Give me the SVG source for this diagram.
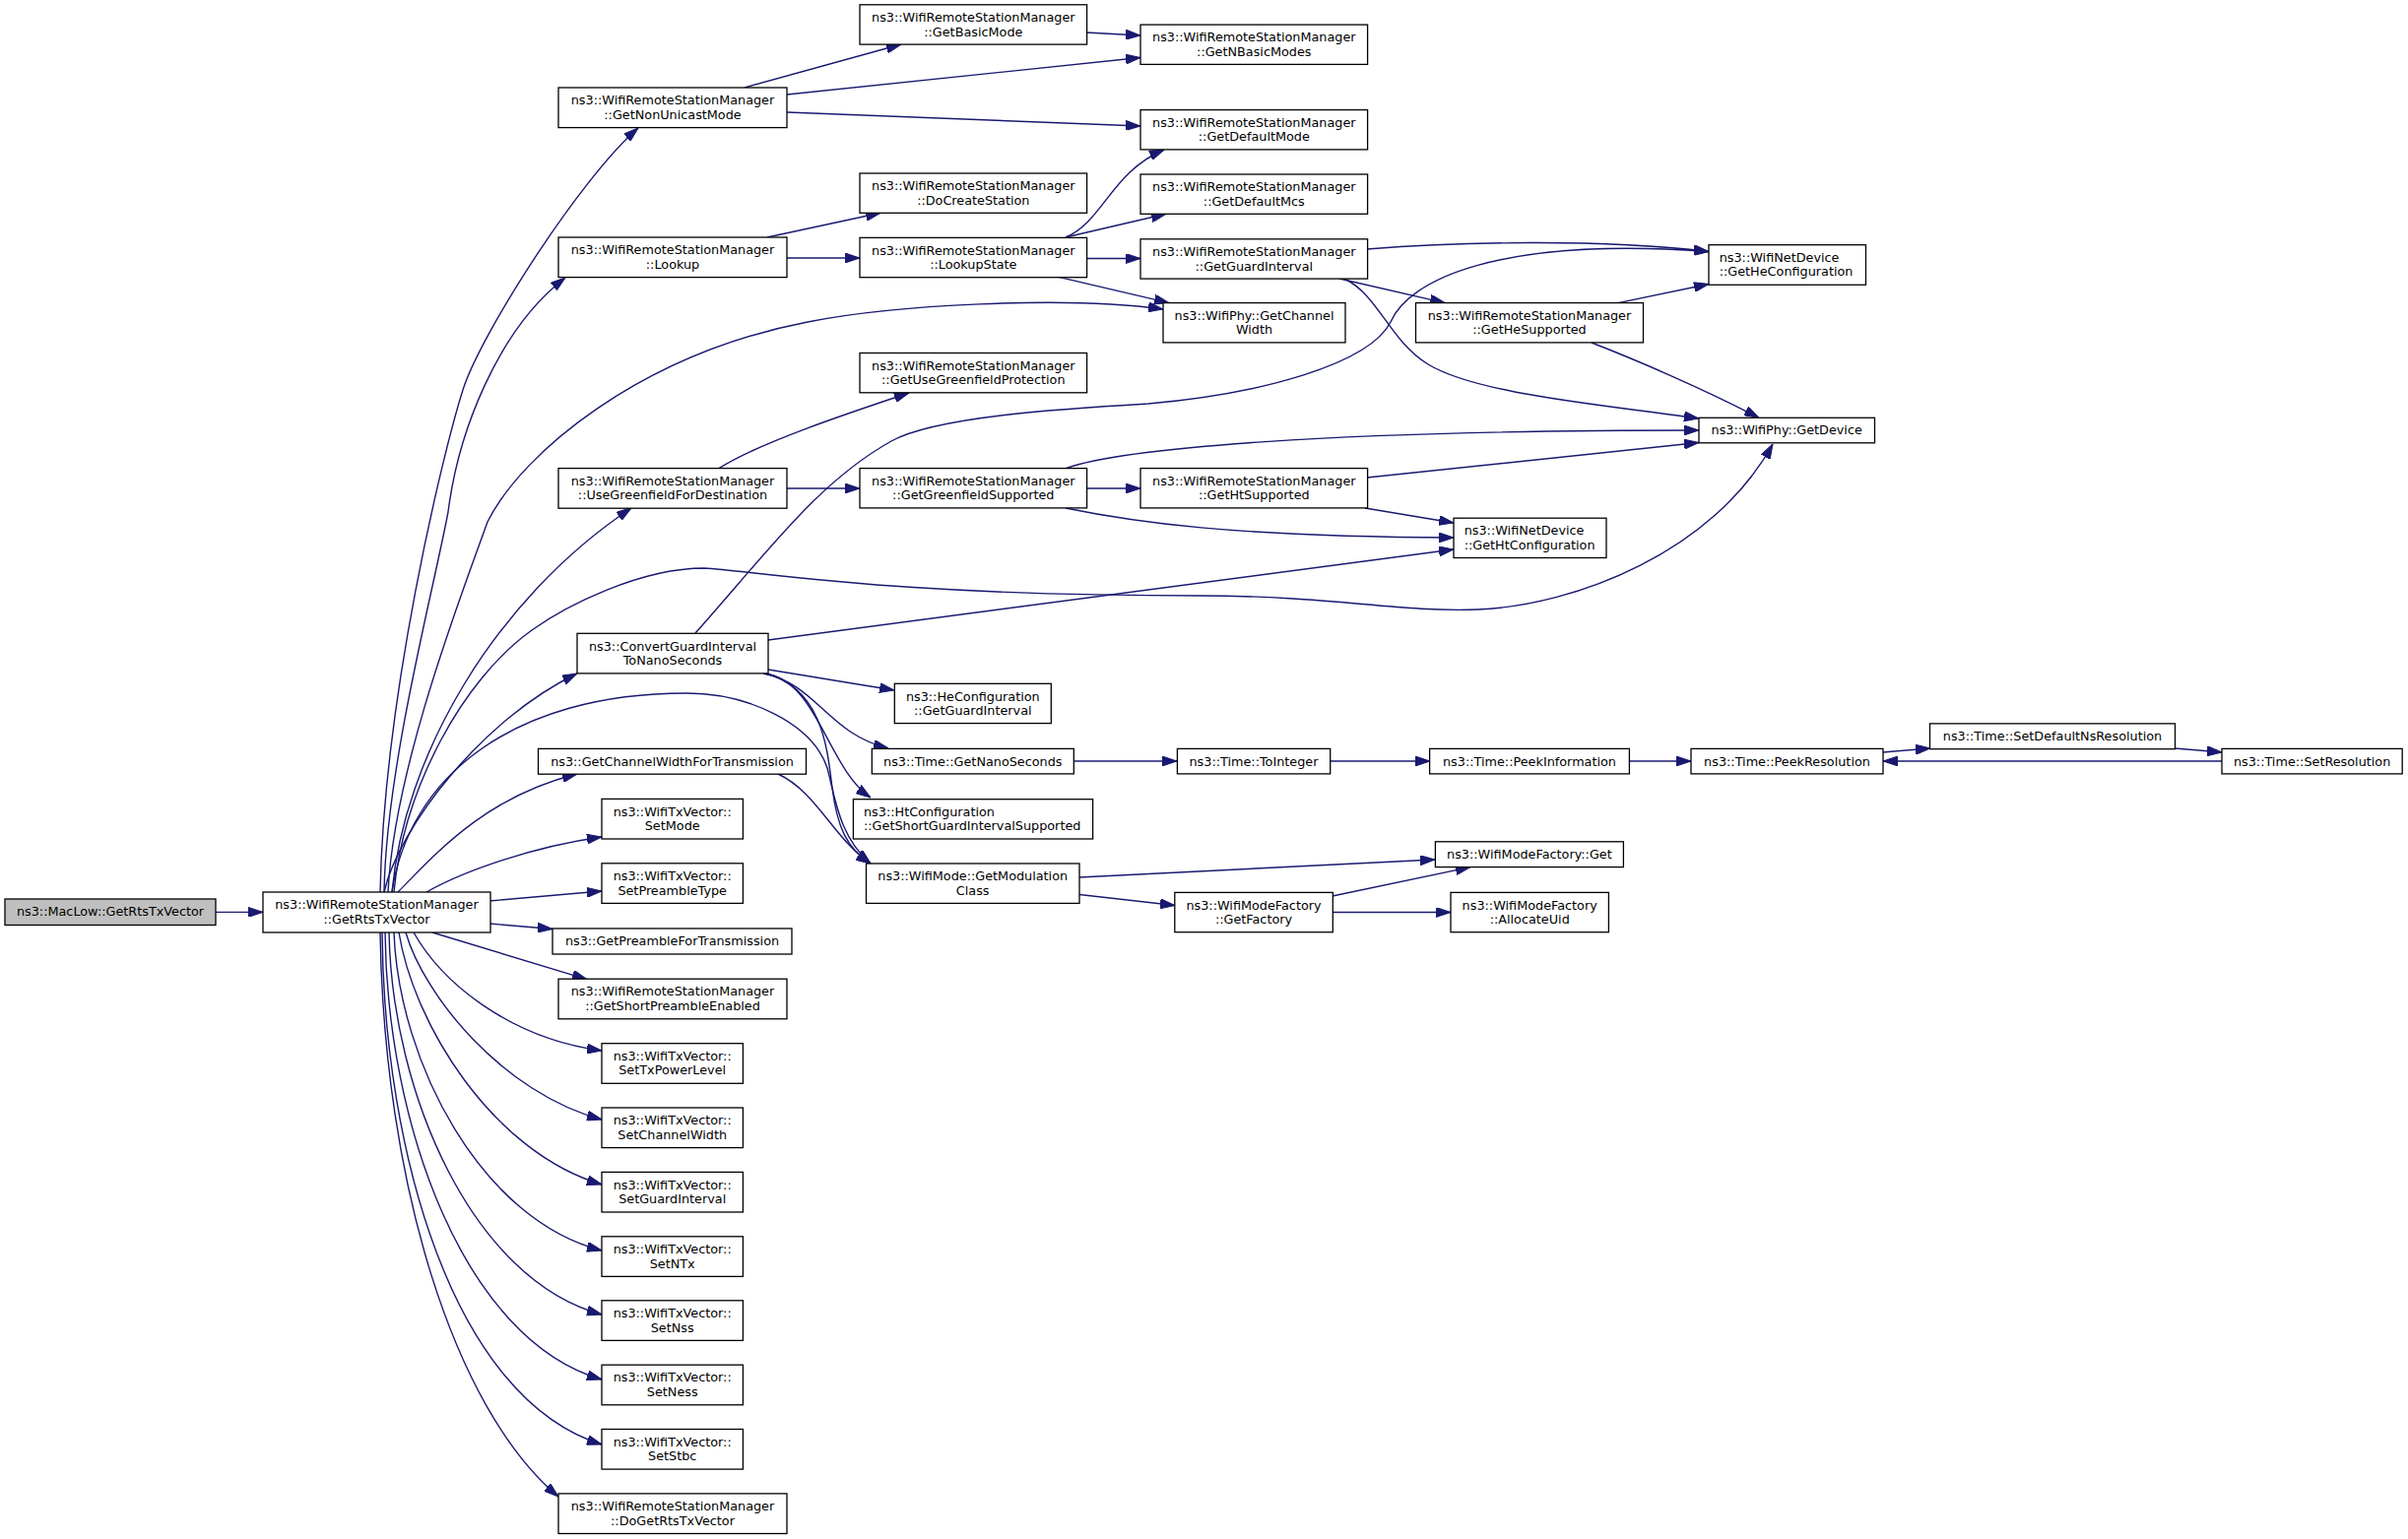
<svg xmlns="http://www.w3.org/2000/svg" width="2445" height="1563" viewBox="0 0 2445 1563">
<style>
.node rect{fill:#ffffff;stroke:#000000;stroke-width:1.3}
.node.root rect{fill:#bfbfbf}
.node text{font-family:"DejaVu Sans","Liberation Sans",sans-serif;font-size:12.8px;fill:#000000;text-anchor:middle}
.node text.l{text-anchor:start}
.edges path{fill:none;stroke:#191970;stroke-width:1.4;marker-end:url(#ah)}
</style>
<defs>
<marker id="ah" viewBox="0 0 15 10" refX="15" refY="5" markerWidth="15" markerHeight="10" markerUnits="userSpaceOnUse" orient="auto"><path d="M0,0 L15,5 L0,10 z" fill="#191970" stroke="#191970" stroke-width="1"/></marker>
</defs>
<rect x="0" y="0" width="2445" height="1563" fill="#ffffff"/>
<g id="edges" class="edges">
<path d="M219,926.4 L267,926.4"/>
<path d="M386,906 C390,706 450,459 470,396 C488,339 590,180 648,130"/>
<path d="M390,906 C392,780 440,600 455,520 C465,440 505,335 574,282"/>
<path d="M394,906 C400,780 470,600 495,530 C530,460 650,360 820,327 C905,310 1080,300 1181,314"/>
<path d="M398,906 C410,770 500,610 641,516"/>
<path d="M400,906 C410,800 470,690 540,640 C575,615 650,577 715,577 C770,580 900,605 1218,605 C1350,605 1420,622 1500,619 C1600,615 1740,560 1800,451"/>
<path d="M390,906 C405,840 490,730 586,684"/>
<path d="M404,906 C440,870 490,810 586,786"/>
<path d="M433,906 C470,885 540,860 611,850"/>
<path d="M497,915 L611,905"/>
<path d="M497,938 L561,943.5"/>
<path d="M439,947 L596,994.6"/>
<path d="M420,947 C450,1000 520,1055 611,1067"/>
<path d="M412,947 C430,1010 510,1110 611,1137"/>
<path d="M405,947 C420,1040 500,1170 611,1203"/>
<path d="M400,947 C405,1080 490,1240 611,1270"/>
<path d="M395,947 C398,1110 480,1300 611,1335"/>
<path d="M391,947 C393,1140 470,1360 611,1401"/>
<path d="M388,947 C390,1170 460,1420 611,1467"/>
<path d="M386,947 C390,1200 460,1430 567,1520"/>
<path d="M398,906 C415,790 520,704 697,704 C760,704 825,735 840,780 C848,810 852,850 884,877"/>
<path d="M756,89 L915,45"/>
<path d="M799,96 L1158,58.5"/>
<path d="M799,114 L1158,128"/>
<path d="M1103,33 L1158,36"/>
<path d="M779,241 L894,216.3"/>
<path d="M799,262 L873,262"/>
<path d="M1082,241 C1120,225 1128,175 1182,152"/>
<path d="M1082,241 L1184,217.3"/>
<path d="M1103,262.5 L1158,262.5"/>
<path d="M1075,281.4 L1187,307.6"/>
<path d="M1388,253 C1480,246 1620,242 1735,255.5"/>
<path d="M1360,283 L1467,307.6"/>
<path d="M1365,283 C1400,300 1410,345 1450,370 C1500,400 1620,410 1725,425"/>
<path d="M1643,307.6 L1735,288.5"/>
<path d="M1616,348 C1660,365 1730,395 1786,424.3"/>
<path d="M730,475.6 C770,450 860,420 923,399"/>
<path d="M799,496 L873,496"/>
<path d="M1082,475.6 C1140,455 1350,437 1725,437"/>
<path d="M1103,496 L1158,496"/>
<path d="M1082,516 C1150,530 1250,545 1476,546"/>
<path d="M1388,485 L1725,449.5"/>
<path d="M1386,516 L1476,531"/>
<path d="M706,643 C780,560 830,490 905,448 C950,423 1080,415 1166,410 C1280,400 1390,370 1412,327 C1430,285 1520,240 1735,255.5"/>
<path d="M780,650 L1476,558"/>
<path d="M780,680 L908,701"/>
<path d="M775,684 C830,695 840,745 902,760"/>
<path d="M776,684 C830,690 840,780 884,810"/>
<path d="M778,684 C835,700 840,760 845,800 C850,840 860,862 884,877"/>
<path d="M790,786 C830,805 845,850 884,877"/>
<path d="M1096,891 L1457,873"/>
<path d="M1096,908.5 L1193,919.5"/>
<path d="M1353,910 L1493,880.6"/>
<path d="M1353,926.5 L1473,926.5"/>
<path d="M1090,773 L1195,773"/>
<path d="M1351,773 L1452,773"/>
<path d="M1654,773 L1717,773"/>
<path d="M1912,764 L1960,760"/>
<path d="M2208,760 L2256,764"/>
<path d="M2256,773 L1912,773"/>
</g>
<g id="n0" class="node root"><rect x="5" y="913" width="214" height="26.5"/><text x="112" y="930.3">ns3::MacLow::GetRtsTxVector</text></g>
<g id="n1" class="node"><rect x="267" y="906" width="231" height="41"/><text x="382.5" y="923.2">ns3::WifiRemoteStationManager</text><text x="382.5" y="937.7">::GetRtsTxVector</text></g>
<g id="n2" class="node"><rect x="567" y="89" width="232" height="40.6"/><text x="683" y="106.2">ns3::WifiRemoteStationManager</text><text x="683" y="120.7">::GetNonUnicastMode</text></g>
<g id="n3" class="node"><rect x="567" y="241" width="232" height="40.6"/><text x="683" y="258.2">ns3::WifiRemoteStationManager</text><text x="683" y="272.7">::Lookup</text></g>
<g id="n4" class="node"><rect x="567" y="475.6" width="232" height="40.6"/><text x="683" y="492.8">ns3::WifiRemoteStationManager</text><text x="683" y="507.3">::UseGreenfieldForDestination</text></g>
<g id="n5" class="node"><rect x="586" y="643.3" width="194" height="40.6"/><text x="683" y="660.5">ns3::ConvertGuardInterval</text><text x="683" y="675">ToNanoSeconds</text></g>
<g id="n6" class="node"><rect x="546.5" y="760.4" width="272" height="25.8"/><text x="682.5" y="777.7">ns3::GetChannelWidthForTransmission</text></g>
<g id="n7" class="node"><rect x="611" y="811.4" width="143.4" height="40.6"/><text x="682.7" y="828.6">ns3::WifiTxVector::</text><text x="682.7" y="843.1">SetMode</text></g>
<g id="n8" class="node"><rect x="611" y="876.8" width="143.4" height="40.6"/><text x="682.7" y="894">ns3::WifiTxVector::</text><text x="682.7" y="908.5">SetPreambleType</text></g>
<g id="n9" class="node"><rect x="561" y="943" width="243" height="26"/><text x="682.5" y="960.3">ns3::GetPreambleForTransmission</text></g>
<g id="n10" class="node"><rect x="567" y="994.2" width="232" height="40.6"/><text x="683" y="1011.4">ns3::WifiRemoteStationManager</text><text x="683" y="1025.9">::GetShortPreambleEnabled</text></g>
<g id="n11" class="node"><rect x="611" y="1059.7" width="143.4" height="40.6"/><text x="682.7" y="1076.9">ns3::WifiTxVector::</text><text x="682.7" y="1091.4">SetTxPowerLevel</text></g>
<g id="n12" class="node"><rect x="611" y="1125" width="143.4" height="40.6"/><text x="682.7" y="1142.2">ns3::WifiTxVector::</text><text x="682.7" y="1156.7">SetChannelWidth</text></g>
<g id="n13" class="node"><rect x="611" y="1190.4" width="143.4" height="40.6"/><text x="682.7" y="1207.6">ns3::WifiTxVector::</text><text x="682.7" y="1222.1">SetGuardInterval</text></g>
<g id="n14" class="node"><rect x="611" y="1255.8" width="143.4" height="40.6"/><text x="682.7" y="1273">ns3::WifiTxVector::</text><text x="682.7" y="1287.5">SetNTx</text></g>
<g id="n15" class="node"><rect x="611" y="1320.8" width="143.4" height="40.6"/><text x="682.7" y="1338">ns3::WifiTxVector::</text><text x="682.7" y="1352.5">SetNss</text></g>
<g id="n16" class="node"><rect x="611" y="1386.2" width="143.4" height="40.6"/><text x="682.7" y="1403.4">ns3::WifiTxVector::</text><text x="682.7" y="1417.9">SetNess</text></g>
<g id="n17" class="node"><rect x="611" y="1451.5" width="143.4" height="40.6"/><text x="682.7" y="1468.7">ns3::WifiTxVector::</text><text x="682.7" y="1483.2">SetStbc</text></g>
<g id="n18" class="node"><rect x="567" y="1516.9" width="232" height="40.6"/><text x="683" y="1534.1">ns3::WifiRemoteStationManager</text><text x="683" y="1548.6">::DoGetRtsTxVector</text></g>
<g id="n19" class="node"><rect x="873" y="4.8" width="230.6" height="40.3"/><text x="988.3" y="22">ns3::WifiRemoteStationManager</text><text x="988.3" y="36.5">::GetBasicMode</text></g>
<g id="n20" class="node"><rect x="1158" y="25.1" width="230.6" height="40.3"/><text x="1273.3" y="42.3">ns3::WifiRemoteStationManager</text><text x="1273.3" y="56.8">::GetNBasicModes</text></g>
<g id="n21" class="node"><rect x="1158" y="111.6" width="230.6" height="40.3"/><text x="1273.3" y="128.8">ns3::WifiRemoteStationManager</text><text x="1273.3" y="143.3">::GetDefaultMode</text></g>
<g id="n22" class="node"><rect x="873" y="176" width="230.6" height="40.3"/><text x="988.3" y="193.2">ns3::WifiRemoteStationManager</text><text x="988.3" y="207.7">::DoCreateStation</text></g>
<g id="n23" class="node"><rect x="1158" y="177" width="230.6" height="40.3"/><text x="1273.3" y="194.2">ns3::WifiRemoteStationManager</text><text x="1273.3" y="208.7">::GetDefaultMcs</text></g>
<g id="n24" class="node"><rect x="873" y="241.4" width="230.6" height="40.3"/><text x="988.3" y="258.6">ns3::WifiRemoteStationManager</text><text x="988.3" y="273.1">::LookupState</text></g>
<g id="n25" class="node"><rect x="1158" y="242.8" width="230.6" height="40.3"/><text x="1273.3" y="260">ns3::WifiRemoteStationManager</text><text x="1273.3" y="274.5">::GetGuardInterval</text></g>
<g id="n26" class="node"><rect x="1181" y="307.6" width="185" height="40.3"/><text x="1273.5" y="324.8">ns3::WifiPhy::GetChannel</text><text x="1273.5" y="339.3">Width</text></g>
<g id="n27" class="node"><rect x="1437.5" y="307.6" width="231" height="40.3"/><text x="1553" y="324.8">ns3::WifiRemoteStationManager</text><text x="1553" y="339.3">::GetHeSupported</text></g>
<g id="n28" class="node"><rect x="873" y="358.5" width="230.6" height="40.3"/><text x="988.3" y="375.7">ns3::WifiRemoteStationManager</text><text x="988.3" y="390.2">::GetUseGreenfieldProtection</text></g>
<g id="n29" class="node"><rect x="873" y="475.6" width="230.6" height="40.3"/><text x="988.3" y="492.8">ns3::WifiRemoteStationManager</text><text x="988.3" y="507.3">::GetGreenfieldSupported</text></g>
<g id="n30" class="node"><rect x="1158" y="475.6" width="230.6" height="40.3"/><text x="1273.3" y="492.8">ns3::WifiRemoteStationManager</text><text x="1273.3" y="507.3">::GetHtSupported</text></g>
<g id="n31" class="node"><rect x="1476" y="526.2" width="155" height="40.3"/><text class="l" x="1486.7" y="543.4">ns3::WifiNetDevice</text><text class="l" x="1486.7" y="557.9">::GetHtConfiguration</text></g>
<g id="n32" class="node"><rect x="1735" y="248.7" width="159.5" height="40.6"/><text class="l" x="1745.7" y="265.9">ns3::WifiNetDevice</text><text class="l" x="1745.7" y="280.4">::GetHeConfiguration</text></g>
<g id="n33" class="node"><rect x="1725" y="424.3" width="178.5" height="25.5"/><text x="1814.2" y="441.4">ns3::WifiPhy::GetDevice</text></g>
<g id="n34" class="node"><rect x="908.3" y="694.3" width="159" height="40.3"/><text x="987.8" y="711.5">ns3::HeConfiguration</text><text x="987.8" y="726">::GetGuardInterval</text></g>
<g id="n35" class="node"><rect x="885.3" y="760.4" width="205" height="25.5"/><text x="987.8" y="777.5">ns3::Time::GetNanoSeconds</text></g>
<g id="n36" class="node"><rect x="1195.4" y="760.4" width="155.3" height="25.5"/><text x="1273" y="777.5">ns3::Time::ToInteger</text></g>
<g id="n37" class="node"><rect x="1451.6" y="760.4" width="202.8" height="25.5"/><text x="1553" y="777.5">ns3::Time::PeekInformation</text></g>
<g id="n38" class="node"><rect x="866.4" y="811.7" width="243.2" height="40.3"/><text class="l" x="877" y="828.9">ns3::HtConfiguration</text><text class="l" x="877" y="843.4">::GetShortGuardIntervalSupported</text></g>
<g id="n39" class="node"><rect x="879.5" y="877" width="216.5" height="40.4"/><text x="987.7" y="894.2">ns3::WifiMode::GetModulation</text><text x="987.7" y="908.7">Class</text></g>
<g id="n40" class="node"><rect x="1192.8" y="906.4" width="160.5" height="40.3"/><text x="1273" y="923.6">ns3::WifiModeFactory</text><text x="1273" y="938.1">::GetFactory</text></g>
<g id="n41" class="node"><rect x="1457.4" y="854.8" width="191" height="25.8"/><text x="1552.9" y="872">ns3::WifiModeFactory::Get</text></g>
<g id="n42" class="node"><rect x="1473" y="906.4" width="160.4" height="40.3"/><text x="1553.2" y="923.6">ns3::WifiModeFactory</text><text x="1553.2" y="938.1">::AllocateUid</text></g>
<g id="n43" class="node"><rect x="1717" y="760.4" width="195" height="25.5"/><text x="1814.5" y="777.5">ns3::Time::PeekResolution</text></g>
<g id="n44" class="node"><rect x="1959.5" y="734.9" width="249" height="25.8"/><text x="2084" y="752.2">ns3::Time::SetDefaultNsResolution</text></g>
<g id="n45" class="node"><rect x="2256" y="760.4" width="183.2" height="25.5"/><text x="2347.6" y="777.5">ns3::Time::SetResolution</text></g>
</svg>
